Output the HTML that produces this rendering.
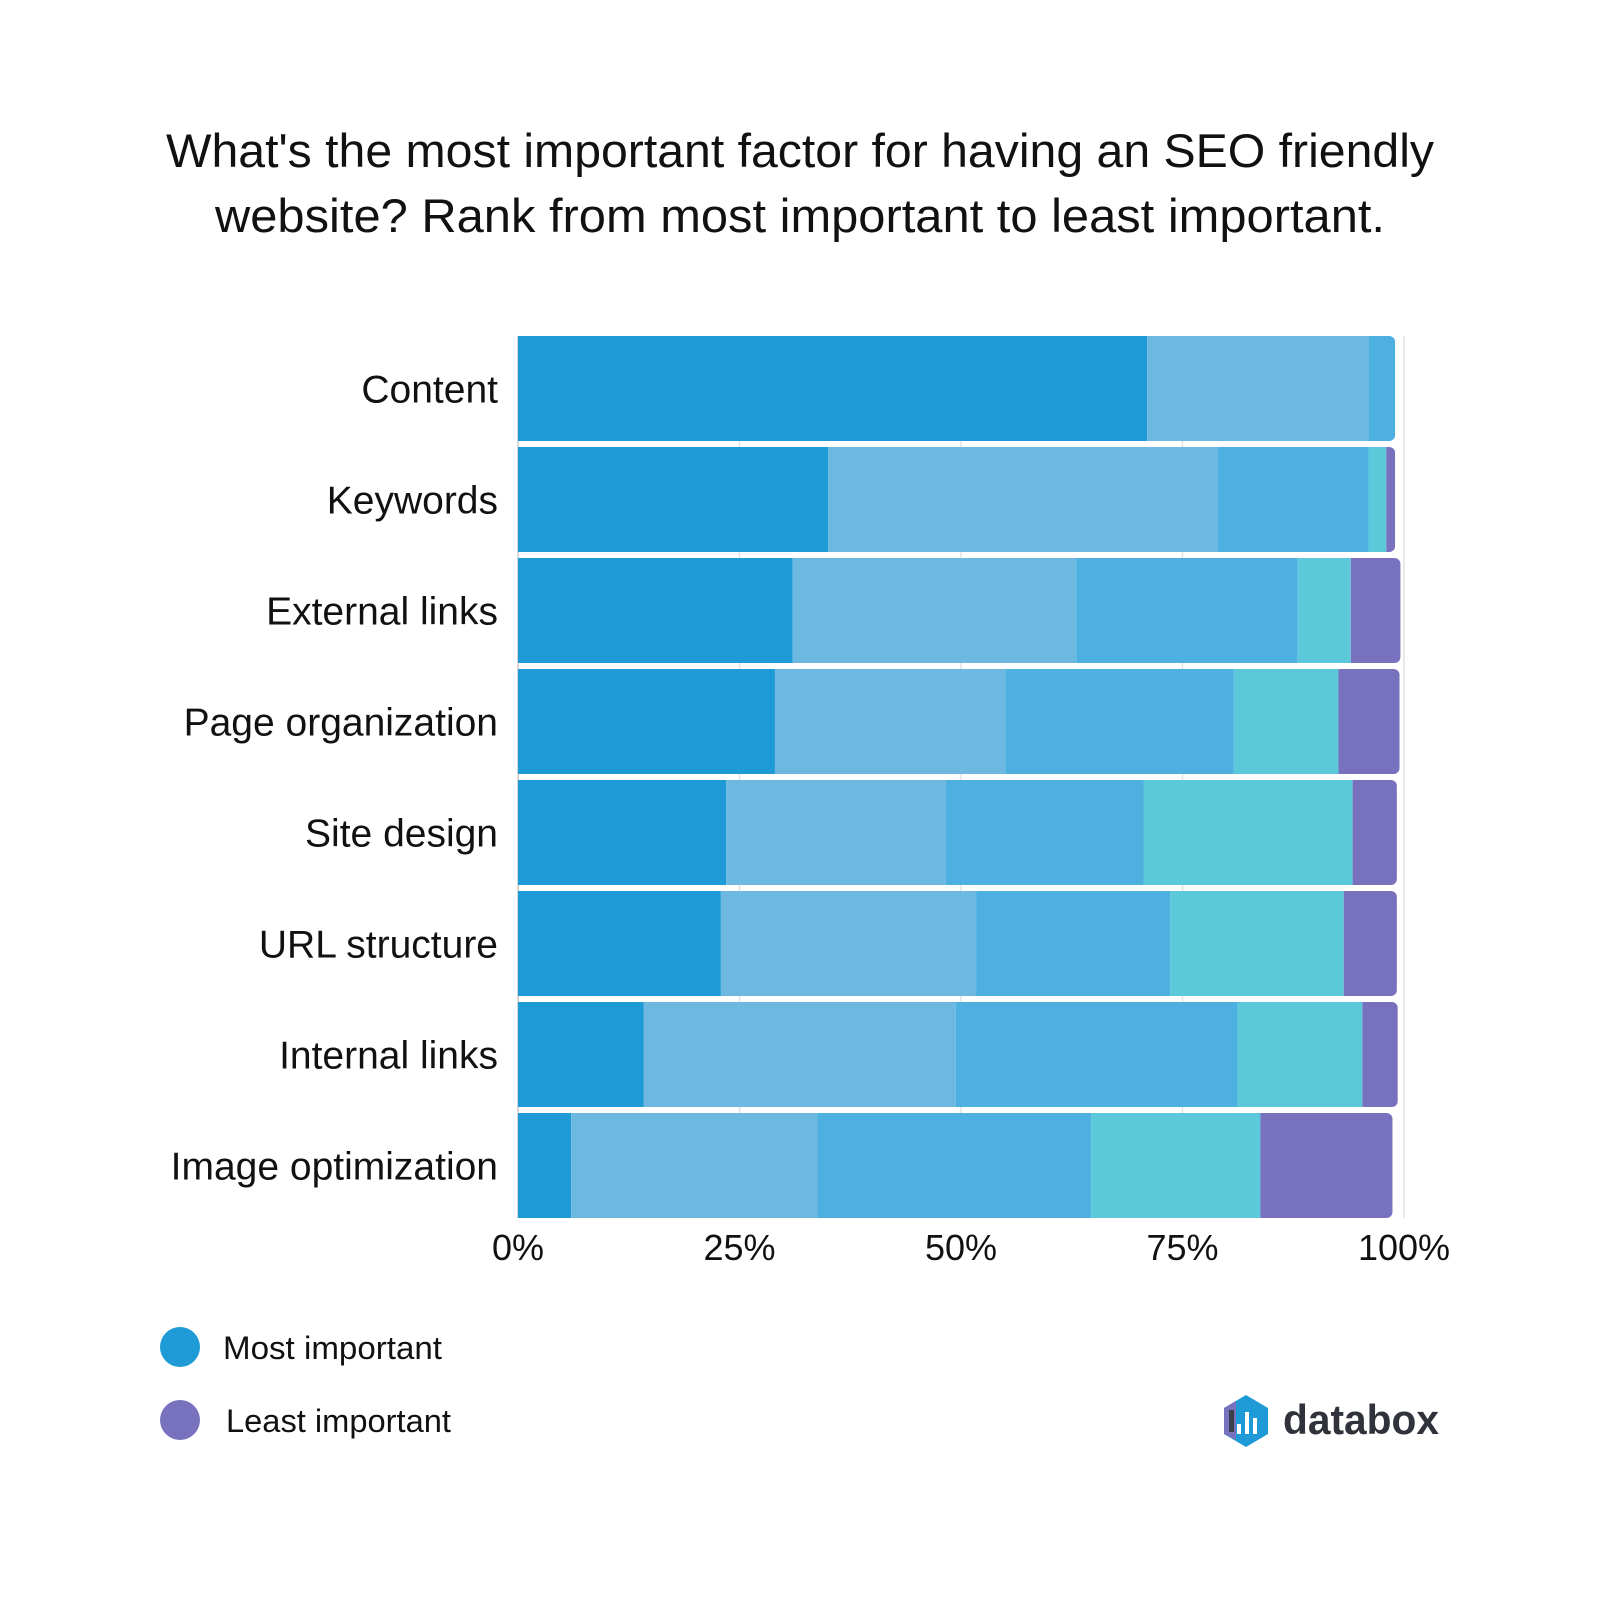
<!DOCTYPE html>
<html><head><meta charset="utf-8"><style>
html,body{margin:0;padding:0;background:#fff;}
svg{display:block;font-family:"Liberation Sans",sans-serif;}
</style></head><body>
<svg id="chart" width="1600" height="1600" viewBox="0 0 1600 1600">
<text x="800" y="167" text-anchor="middle" font-size="47" fill="#111" textLength="1268" lengthAdjust="spacingAndGlyphs">What's the most important factor for having an SEO friendly</text>
<text x="800" y="232" text-anchor="middle" font-size="47" fill="#111" textLength="1170" lengthAdjust="spacingAndGlyphs">website? Rank from most important to least important.</text>
<g id="grid"></g>
<g id="bars"></g>
<g id="ylabels"></g>
<g id="xlabels"></g>
<g>
<circle cx="180" cy="1347" r="20" fill="#1e9ad6"/>
<text x="223" y="1359" font-size="32" fill="#111" textLength="219" lengthAdjust="spacingAndGlyphs">Most important</text>
<circle cx="180" cy="1420" r="20" fill="#7872be"/>
<text x="226" y="1432" font-size="32" fill="#111" textLength="225" lengthAdjust="spacingAndGlyphs">Least important</text>
</g>
<g transform="translate(-8,-8)">
<polygon points="1232,1416 1254,1403 1276,1416 1276,1442 1254,1455 1232,1442" fill="#1e9ad6"/>
<polygon points="1232,1416 1244,1409 1244,1448 1232,1442" fill="#7872be"/>
<rect x="1237" y="1418" width="5" height="22" fill="#3a3f4a"/>
<rect x="1245" y="1432" width="4" height="10" fill="#fff"/>
<rect x="1253" y="1420" width="4" height="22" fill="#fff"/>
<rect x="1261" y="1426" width="4" height="16" fill="#fff"/>
<text x="1291" y="1442" font-size="42" font-weight="bold" fill="#30333b" textLength="156" lengthAdjust="spacingAndGlyphs">databox</text>
</g>
</svg>
<script>
const categories = ["Content","Keywords","External links","Page organization","Site design","URL structure","Internal links","Image optimization"];
const rank1 = [71, 35, 31, 29, 23.5, 22.9, 14.2, 6];
const rank2 = [25, 44, 32, 26, 24.8, 28.8, 35.2, 27.8];
const rank3 = [3, 17, 25, 25.8, 22.3, 21.9, 31.8, 30.9];
const rank4 = [0, 2, 6, 11.8, 23.6, 19.6, 14.1, 19.1];
const rank5 = [0, 1, 5.6, 6.9, 5, 6, 4, 14.9];
const tickValues = [0, 25, 50, 75, 100];
const tickLabels = ["0%","25%","50%","75%","100%"];

const series = [rank1, rank2, rank3, rank4, rank5];
const colors = ["#1e9ad6","#6cb8e0","#4eb0e1","#5bc9da","#7872be"];
const NS = "http://www.w3.org/2000/svg";
const X0 = 518, X1 = 1404, Y0 = 336, PITCH = 111, BH = 105;
const xScale = v => X0 + (X1 - X0) * v / 100;
const yScale = i => Y0 + i * PITCH;

const grid = document.getElementById('grid');
tickValues.forEach((t, i) => {
  const l = document.createElementNS(NS, 'line');
  l.setAttribute('x1', xScale(t)); l.setAttribute('x2', xScale(t));
  l.setAttribute('y1', Y0); l.setAttribute('y2', yScale(categories.length - 1) + BH);
  l.setAttribute('stroke', i === 0 ? '#ccc' : '#e2e2e2'); l.setAttribute('stroke-width', '1.5');
  
  
  grid.appendChild(l);
  const tx = document.createElementNS(NS, 'text');
  tx.setAttribute('x', xScale(t)); tx.setAttribute('y', 1260);
  tx.setAttribute('text-anchor', 'middle'); tx.setAttribute('font-size', '36'); tx.setAttribute('fill', '#111');
  tx.textContent = tickLabels[i];
  
  
  document.getElementById('xlabels').appendChild(tx);
});

const bars = document.getElementById('bars');
categories.forEach((c, i) => {
  const y = yScale(i);
  let cum = 0;
  const total = series.reduce((s, a) => s + a[i], 0);
  const g = document.createElementNS(NS, 'g');
  
  
  const clipId = 'clip' + i;
  const cp = document.createElementNS(NS, 'clipPath'); cp.setAttribute('id', clipId);
  const cr = document.createElementNS(NS, 'rect');
  cr.setAttribute('x', X0 - 10); cr.setAttribute('y', y); cr.setAttribute('width', xScale(total) - X0 + 10);
  cr.setAttribute('height', BH); cr.setAttribute('rx', 6);
  cp.appendChild(cr); g.appendChild(cp);
  series.forEach((s, k) => {
    const v = s[i];
    if (v <= 0) { return; }
    const r = document.createElementNS(NS, 'rect');
    r.setAttribute('x', xScale(cum)); r.setAttribute('y', y);
    r.setAttribute('width', xScale(cum + v) - xScale(cum)); r.setAttribute('height', BH);
    r.setAttribute('fill', colors[k]); r.setAttribute('clip-path', 'url(#' + clipId + ')');
    
    
    g.appendChild(r);
    cum += v;
  });
  bars.appendChild(g);
  const t = document.createElementNS(NS, 'text');
  t.setAttribute('x', 498); t.setAttribute('y', y + BH / 2 + 14);
  t.setAttribute('text-anchor', 'end'); t.setAttribute('font-size', '39'); t.setAttribute('fill', '#111');
  t.textContent = c;
  
  
  document.getElementById('ylabels').appendChild(t);
});
</script>
</body></html>
